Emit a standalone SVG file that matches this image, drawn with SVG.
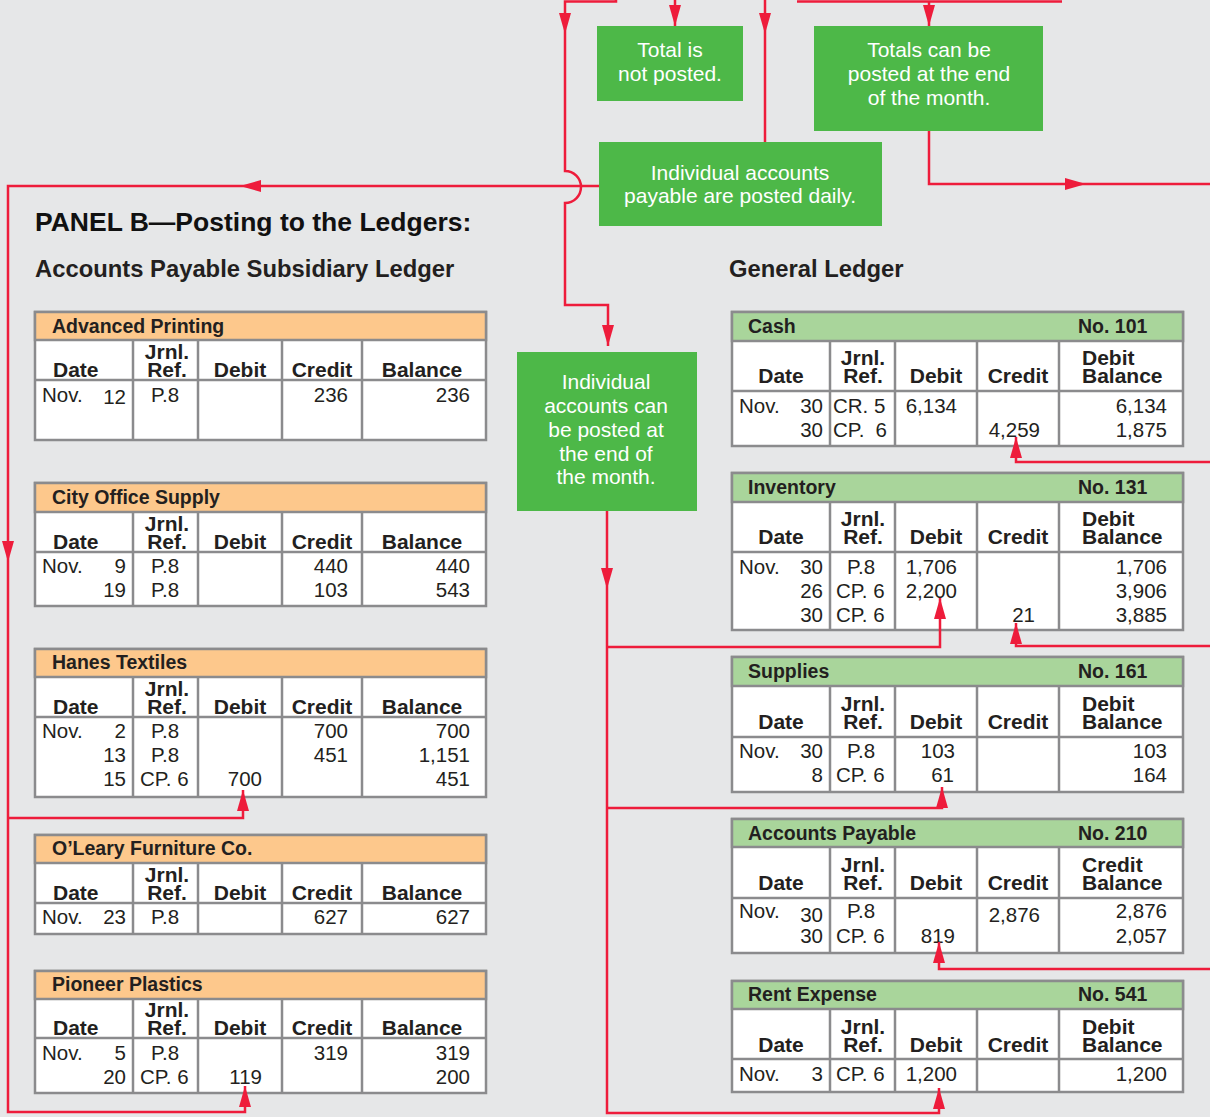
<svg xmlns="http://www.w3.org/2000/svg" width="1210" height="1117" viewBox="0 0 1210 1117">
<defs>
<style>
.bg{fill:#e6e7e8}
.hO{fill:#fdc88c;stroke:#8b8b8d;stroke-width:2.5}
.hG{fill:#a9d59b;stroke:#8b8b8d;stroke-width:2.5}
.bd{fill:#ffffff;stroke:#8b8b8d;stroke-width:2.5}
.ln{stroke:#8b8b8d;stroke-width:2.5;fill:none}
text{font-family:"Liberation Sans",Arial,Helvetica,sans-serif;fill:#231f20}
.ti{font-size:19.5px;font-weight:bold}
.ch{font-size:21px;font-weight:bold}
.m{text-anchor:middle}
.e{text-anchor:end}
.d{font-size:20.5px}
.h1{font-size:26.5px;font-weight:bold;fill:#111}
.h2{font-size:23.8px;font-weight:bold}
.gb{fill:#4db848}
.gt{font-size:21px;fill:#ffffff;text-anchor:middle}
.c{stroke:#ee1c3b;stroke-width:2.5;fill:none}
</style>
<marker id="ar" markerUnits="userSpaceOnUse" markerWidth="22" markerHeight="12" refX="21" refY="6" orient="auto" viewBox="0 0 22 12">
<path d="M0,0 L21,6 L0,12 Z" fill="#ee1c3b"/>
</marker>
</defs>
<rect class="bg" x="0" y="0" width="1210" height="1117"/>

<text class="h1" x="35" y="231">PANEL B—Posting to the Ledgers:</text>
<text class="h2" x="35" y="277">Accounts Payable Subsidiary Ledger</text>
<text class="h2" x="729" y="277">General Ledger</text>

<g id="box-total-not-posted">
<rect class="gb" x="597" y="26" width="146" height="75"/>
<text class="gt" x="670" y="57">Total is</text>
<text class="gt" x="670" y="81">not posted.</text>
</g>
<g id="box-totals-end-month">
<rect class="gb" x="814" y="26" width="229" height="105"/>
<text class="gt" x="929" y="57">Totals can be</text>
<text class="gt" x="929" y="81">posted at the end</text>
<text class="gt" x="929" y="105">of the month.</text>
</g>
<g id="box-posted-daily">
<rect class="gb" x="599" y="142" width="283" height="84"/>
<text class="gt" x="740" y="180">Individual accounts</text>
<text class="gt" x="740" y="203">payable are posted daily.</text>
</g>
<g id="box-posted-end-month">
<rect class="gb" x="517" y="352" width="180" height="159"/>
<text class="gt" x="606" y="389">Individual</text>
<text class="gt" x="606" y="413">accounts can</text>
<text class="gt" x="606" y="437">be posted at</text>
<text class="gt" x="606" y="461">the end of</text>
<text class="gt" x="606" y="484">the month.</text>
</g>

<!-- Left subsidiary ledger tables -->
<g id="advanced-printing">
<rect class="bd" x="35" y="312" width="451" height="128"/>
<rect class="hO" x="35" y="312" width="451" height="28"/>
<path class="ln" d="M35,380 H486 M133,340 V440 M198,340 V440 M282,340 V440 M362,340 V440"/>
<text class="ti" x="52" y="333">Advanced Printing</text>
<text class="ch" x="53" y="377">Date</text>
<text class="ch m" x="167" y="359">Jrnl.</text><text class="ch m" x="167" y="377">Ref.</text>
<text class="ch m" x="240" y="377">Debit</text><text class="ch m" x="322" y="377">Credit</text><text class="ch m" x="422" y="377">Balance</text>
<text class="d" x="42" y="402">Nov.</text><text class="d e" x="126" y="404">12</text><text class="d" x="151" y="402">P.8</text>
<text class="d e" x="348" y="402">236</text><text class="d e" x="470" y="402">236</text>
</g>

<g id="city-office-supply">
<rect class="bd" x="35" y="483" width="451" height="123"/>
<rect class="hO" x="35" y="483" width="451" height="29"/>
<path class="ln" d="M35,552 H486 M133,512 V606 M198,512 V606 M282,512 V606 M362,512 V606"/>
<text class="ti" x="52" y="504">City Office Supply</text>
<text class="ch" x="53" y="549">Date</text>
<text class="ch m" x="167" y="531">Jrnl.</text><text class="ch m" x="167" y="549">Ref.</text>
<text class="ch m" x="240" y="549">Debit</text><text class="ch m" x="322" y="549">Credit</text><text class="ch m" x="422" y="549">Balance</text>
<text class="d" x="42" y="573">Nov.</text><text class="d e" x="126" y="573">9</text><text class="d" x="151" y="573">P.8</text>
<text class="d e" x="348" y="573">440</text><text class="d e" x="470" y="573">440</text>
<text class="d e" x="126" y="597">19</text><text class="d" x="151" y="597">P.8</text>
<text class="d e" x="348" y="597">103</text><text class="d e" x="470" y="597">543</text>
</g>

<g id="hanes-textiles">
<rect class="bd" x="35" y="649" width="451" height="148"/>
<rect class="hO" x="35" y="649" width="451" height="28"/>
<path class="ln" d="M35,717 H486 M133,677 V797 M198,677 V797 M282,677 V797 M362,677 V797"/>
<text class="ti" x="52" y="669">Hanes Textiles</text>
<text class="ch" x="53" y="714">Date</text>
<text class="ch m" x="167" y="696">Jrnl.</text><text class="ch m" x="167" y="714">Ref.</text>
<text class="ch m" x="240" y="714">Debit</text><text class="ch m" x="322" y="714">Credit</text><text class="ch m" x="422" y="714">Balance</text>
<text class="d" x="42" y="738">Nov.</text><text class="d e" x="126" y="738">2</text><text class="d" x="151" y="738">P.8</text>
<text class="d e" x="348" y="738">700</text><text class="d e" x="470" y="738">700</text>
<text class="d e" x="126" y="762">13</text><text class="d" x="151" y="762">P.8</text>
<text class="d e" x="348" y="762">451</text><text class="d e" x="470" y="762">1,151</text>
<text class="d e" x="126" y="786">15</text><text class="d" x="140" y="786">CP. 6</text>
<text class="d e" x="262" y="786">700</text><text class="d e" x="470" y="786">451</text>
</g>

<g id="oleary-furniture">
<rect class="bd" x="35" y="835" width="451" height="99"/>
<rect class="hO" x="35" y="835" width="451" height="28"/>
<path class="ln" d="M35,903 H486 M133,863 V934 M198,863 V934 M282,863 V934 M362,863 V934"/>
<text class="ti" x="52" y="855">O’Leary Furniture Co.</text>
<text class="ch" x="53" y="900">Date</text>
<text class="ch m" x="167" y="882">Jrnl.</text><text class="ch m" x="167" y="900">Ref.</text>
<text class="ch m" x="240" y="900">Debit</text><text class="ch m" x="322" y="900">Credit</text><text class="ch m" x="422" y="900">Balance</text>
<text class="d" x="42" y="924">Nov.</text><text class="d e" x="126" y="924">23</text><text class="d" x="151" y="924">P.8</text>
<text class="d e" x="348" y="924">627</text><text class="d e" x="470" y="924">627</text>
</g>

<g id="pioneer-plastics">
<rect class="bd" x="35" y="971" width="451" height="122"/>
<rect class="hO" x="35" y="971" width="451" height="28"/>
<path class="ln" d="M35,1038 H486 M133,999 V1093 M198,999 V1093 M282,999 V1093 M362,999 V1093"/>
<text class="ti" x="52" y="991">Pioneer Plastics</text>
<text class="ch" x="53" y="1035">Date</text>
<text class="ch m" x="167" y="1017">Jrnl.</text><text class="ch m" x="167" y="1035">Ref.</text>
<text class="ch m" x="240" y="1035">Debit</text><text class="ch m" x="322" y="1035">Credit</text><text class="ch m" x="422" y="1035">Balance</text>
<text class="d" x="42" y="1060">Nov.</text><text class="d e" x="126" y="1060">5</text><text class="d" x="151" y="1060">P.8</text>
<text class="d e" x="348" y="1060">319</text><text class="d e" x="470" y="1060">319</text>
<text class="d e" x="126" y="1084">20</text><text class="d" x="140" y="1084">CP. 6</text>
<text class="d e" x="262" y="1084">119</text><text class="d e" x="470" y="1084">200</text>
</g>

<!-- General ledger tables -->
<g id="cash">
<rect class="bd" x="732" y="312" width="451" height="134"/>
<rect class="hG" x="732" y="312" width="451" height="29"/>
<path class="ln" d="M732,391 H1183 M830,341 V446 M895,341 V446 M977,341 V446 M1059,341 V446"/>
<text class="ti" x="748" y="333">Cash</text><text class="ti" x="1078" y="333">No. 101</text>
<text class="ch m" x="781" y="383">Date</text>
<text class="ch m" x="863" y="365">Jrnl.</text><text class="ch m" x="863" y="383">Ref.</text>
<text class="ch m" x="936" y="383">Debit</text><text class="ch m" x="1018" y="383">Credit</text>
<text class="ch" x="1082" y="365">Debit</text><text class="ch" x="1082" y="383">Balance</text>
<text class="d" x="739" y="413">Nov.</text><text class="d e" x="823" y="413">30</text><text class="d" x="833" y="413">CR. 5</text>
<text class="d e" x="957" y="413">6,134</text><text class="d e" x="1167" y="413">6,134</text>
<text class="d e" x="823" y="437">30</text><text class="d" x="833" y="437">CP.</text><text class="d e" x="887" y="437">6</text>
<text class="d e" x="1040" y="437">4,259</text><text class="d e" x="1167" y="437">1,875</text>
</g>

<g id="inventory">
<rect class="bd" x="732" y="473" width="451" height="157"/>
<rect class="hG" x="732" y="473" width="451" height="29"/>
<path class="ln" d="M732,552 H1183 M830,502 V630 M895,502 V630 M977,502 V630 M1059,502 V630"/>
<text class="ti" x="748" y="494">Inventory</text><text class="ti" x="1078" y="494">No. 131</text>
<text class="ch m" x="781" y="544">Date</text>
<text class="ch m" x="863" y="526">Jrnl.</text><text class="ch m" x="863" y="544">Ref.</text>
<text class="ch m" x="936" y="544">Debit</text><text class="ch m" x="1018" y="544">Credit</text>
<text class="ch" x="1082" y="526">Debit</text><text class="ch" x="1082" y="544">Balance</text>
<text class="d" x="739" y="574">Nov.</text><text class="d e" x="823" y="574">30</text><text class="d" x="847" y="574">P.8</text>
<text class="d e" x="957" y="574">1,706</text><text class="d e" x="1167" y="574">1,706</text>
<text class="d e" x="823" y="598">26</text><text class="d" x="836" y="598">CP. 6</text>
<text class="d e" x="957" y="598">2,200</text><text class="d e" x="1167" y="598">3,906</text>
<text class="d e" x="823" y="622">30</text><text class="d" x="836" y="622">CP. 6</text>
<text class="d e" x="1035" y="622">21</text><text class="d e" x="1167" y="622">3,885</text>
</g>

<g id="supplies">
<rect class="bd" x="732" y="657" width="451" height="135"/>
<rect class="hG" x="732" y="657" width="451" height="29"/>
<path class="ln" d="M732,737 H1183 M830,686 V792 M895,686 V792 M977,686 V792 M1059,686 V792"/>
<text class="ti" x="748" y="678">Supplies</text><text class="ti" x="1078" y="678">No. 161</text>
<text class="ch m" x="781" y="729">Date</text>
<text class="ch m" x="863" y="711">Jrnl.</text><text class="ch m" x="863" y="729">Ref.</text>
<text class="ch m" x="936" y="729">Debit</text><text class="ch m" x="1018" y="729">Credit</text>
<text class="ch" x="1082" y="711">Debit</text><text class="ch" x="1082" y="729">Balance</text>
<text class="d" x="739" y="758">Nov.</text><text class="d e" x="823" y="758">30</text><text class="d" x="847" y="758">P.8</text>
<text class="d e" x="955" y="758">103</text><text class="d e" x="1167" y="758">103</text>
<text class="d e" x="823" y="782">8</text><text class="d" x="836" y="782">CP. 6</text>
<text class="d e" x="954" y="782">61</text><text class="d e" x="1167" y="782">164</text>
</g>

<g id="accounts-payable">
<rect class="bd" x="732" y="819" width="451" height="134"/>
<rect class="hG" x="732" y="819" width="451" height="28"/>
<path class="ln" d="M732,898 H1183 M830,847 V953 M895,847 V953 M977,847 V953 M1059,847 V953"/>
<text class="ti" x="748" y="840">Accounts Payable</text><text class="ti" x="1078" y="840">No. 210</text>
<text class="ch m" x="781" y="890">Date</text>
<text class="ch m" x="863" y="872">Jrnl.</text><text class="ch m" x="863" y="890">Ref.</text>
<text class="ch m" x="936" y="890">Debit</text><text class="ch m" x="1018" y="890">Credit</text>
<text class="ch" x="1082" y="872">Credit</text><text class="ch" x="1082" y="890">Balance</text>
<text class="d" x="739" y="918">Nov.</text><text class="d e" x="823" y="922">30</text><text class="d" x="847" y="918">P.8</text>
<text class="d e" x="1040" y="922">2,876</text><text class="d e" x="1167" y="918">2,876</text>
<text class="d e" x="823" y="943">30</text><text class="d" x="836" y="943">CP. 6</text>
<text class="d e" x="955" y="943">819</text><text class="d e" x="1167" y="943">2,057</text>
</g>

<g id="rent-expense">
<rect class="bd" x="732" y="981" width="451" height="111"/>
<rect class="hG" x="732" y="981" width="451" height="28"/>
<path class="ln" d="M732,1059 H1183 M830,1009 V1092 M895,1009 V1092 M977,1009 V1092 M1059,1009 V1092"/>
<text class="ti" x="748" y="1001">Rent Expense</text><text class="ti" x="1078" y="1001">No. 541</text>
<text class="ch m" x="781" y="1052">Date</text>
<text class="ch m" x="863" y="1034">Jrnl.</text><text class="ch m" x="863" y="1052">Ref.</text>
<text class="ch m" x="936" y="1052">Debit</text><text class="ch m" x="1018" y="1052">Credit</text>
<text class="ch" x="1082" y="1034">Debit</text><text class="ch" x="1082" y="1052">Balance</text>
<text class="d" x="739" y="1081">Nov.</text><text class="d e" x="823" y="1081">3</text><text class="d" x="836" y="1081">CP. 6</text>
<text class="d e" x="957" y="1081">1,200</text><text class="d e" x="1167" y="1081">1,200</text>
</g>

<g id="connectors">
<path class="c" d="M616,-4 V1.5 H565 V34" marker-end="url(#ar)"/>
<path class="c" d="M565,34 V171 A16,16 0 0 1 565,203 V305 H608 V346" marker-end="url(#ar)"/>
<path class="c" d="M675,-4 V26" marker-end="url(#ar)"/>
<path class="c" d="M765,-4 V34" marker-end="url(#ar)"/>
<path class="c" d="M765,34 V142"/>
<path class="c" d="M797,1.5 H1062 M929,1.5 V26" marker-end="url(#ar)"/>
<path class="c" d="M929,131 V184 H1086" marker-end="url(#ar)"/>
<path class="c" d="M1086,184 H1212"/>
<path class="c" d="M599,186 H240" marker-end="url(#ar)"/>
<path class="c" d="M240,186 H8 V562" marker-end="url(#ar)"/>
<path class="c" d="M8,562 V1112 H245 V1086" marker-end="url(#ar)"/>
<path class="c" d="M8,818 H243 V790" marker-end="url(#ar)"/>
<path class="c" d="M607,511 V589" marker-end="url(#ar)"/>
<path class="c" d="M607,589 V1113 H939 V1088" marker-end="url(#ar)"/>
<path class="c" d="M607,647 H940 V598" marker-end="url(#ar)"/>
<path class="c" d="M607,808 H942 V787" marker-end="url(#ar)"/>
<path class="c" d="M1212,462 H1016 V437" marker-end="url(#ar)"/>
<path class="c" d="M1212,646 H1016 V623" marker-end="url(#ar)"/>
<path class="c" d="M1212,969 H939 V942" marker-end="url(#ar)"/>
</g>
</svg>
